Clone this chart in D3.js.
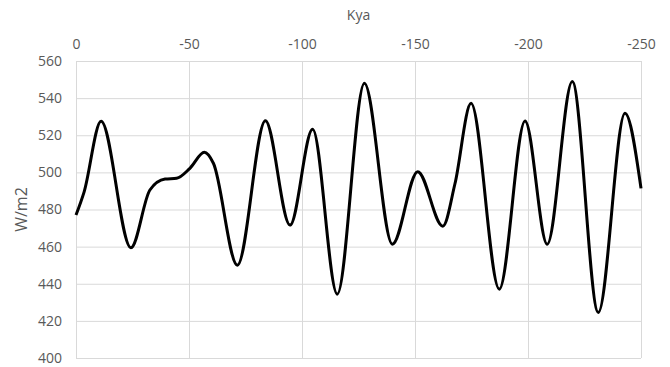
<!DOCTYPE html>
<html>
<head>
<meta charset="utf-8">
<script src="https://cdn.jsdelivr.net/npm/d3@7"></script>
<style>
  body { margin: 0; background: #fff; }
  text { font-family: "Open Sans", sans-serif; fill: #595959; }
</style>
</head>
<body>
<svg id="chart"></svg>
<script>
// values (turning points plus a few shape points)
const kya = [0, -3.6, -11.1, -24.3, -32.7, -39.4, -44.5, -50.4, -56.8, -60.8, -71.4, -83.8,
    -94.7, -104.7, -115.6, -127.6, -140, -151.2, -162.3, -167.7, -174.8, -187.3, -198.7,
    -208.5, -219.6, -231.1, -242.9, -250];
const wm2 = [477, 489.5, 527.5, 459.4, 490.5, 496.4, 496.8, 502.2, 510.8, 504.9, 450, 527.8,
    471.6, 523.2, 434.4, 548, 461.3, 500.4, 471, 494, 537.2, 437.1, 527.7,
    461.3, 548.9, 424.5, 531.8, 491.4];
const xTicks = [0, -50, -100, -150, -200, -250];
const yTicks = [400, 420, 440, 460, 480, 500, 520, 540, 560];

const width = 670, height = 367;
const plot = {left: 76, right: 641, top: 61, bottom: 358};

const svg = d3.select("#chart")
    .attr("width", width)
    .attr("height", height);

const x = d3.scaleLinear().domain([0, -250]).range([plot.left, plot.right]);
const y = d3.scaleLinear().domain([400, 560]).range([plot.bottom, plot.top]);

// grid
svg.append("g")
    .selectAll("line")
    .data(yTicks)
    .join("line")
    .attr("x1", plot.left).attr("x2", plot.right)
    .attr("y1", d => y(d) + 0.5).attr("y2", d => y(d) + 0.5)
    .attr("stroke", "#d9d9d9")
    .attr("stroke-width", 1);

svg.append("g")
    .selectAll("line")
    .data(xTicks)
    .join("line")
    .attr("x1", d => x(d) + 0.5).attr("x2", d => x(d) + 0.5)
    .attr("y1", plot.top).attr("y2", plot.bottom)
    .attr("stroke", "#d9d9d9")
    .attr("stroke-width", 1);

// axes (plain hyphen minus like the original)
const xAxis = svg.append("g")
    .attr("transform", `translate(0,${plot.top})`)
    .call(d3.axisTop(x).tickValues(xTicks).tickSize(0).tickPadding(12).tickFormat(d => String(d)));
xAxis.select(".domain").remove();
xAxis.selectAll("text").style("font-size", "14px").attr("fill", "#595959");

const yAxis = svg.append("g")
    .attr("transform", `translate(${plot.left},0)`)
    .call(d3.axisLeft(y).tickValues(yTicks).tickSize(0).tickPadding(14));
yAxis.select(".domain").remove();
yAxis.selectAll("text").style("font-size", "14px").attr("fill", "#595959");

// titles
svg.append("text")
    .attr("x", (plot.left + plot.right) / 2)
    .attr("y", 20)
    .attr("text-anchor", "middle")
    .style("font-size", "14px")
    .text("Kya");

svg.append("text")
    .attr("transform", `translate(27,${(plot.top + plot.bottom) / 2}) rotate(-90)`)
    .attr("text-anchor", "middle")
    .style("font-size", "16px")
    .text("W/m2");

// series
const line = d3.line()
    .x((d, i) => x(kya[i]))
    .y(d => y(d))
    .curve(d3.curveMonotoneX);

svg.append("path")
    .datum(wm2)
    .attr("d", line)
    .attr("fill", "none")
    .attr("stroke", "#000")
    .attr("stroke-width", 3)
    .attr("stroke-linejoin", "round");
</script>
</body>
</html>
